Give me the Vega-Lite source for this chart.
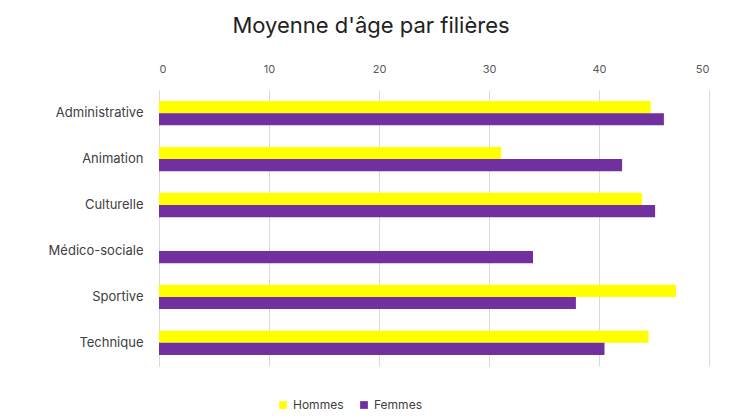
{
  "$schema": "https://vega.github.io/schema/vega-lite/v6.json",
  "width": 550,
  "height": 276,
  "autosize": {"type": "none"},
  "padding": {"left": 159, "top": 90, "right": 22, "bottom": 52},
  "background": "white",
  "title": {
    "text": "Moyenne d'âge par filières",
    "font": "Inter",
    "fontSize": 22,
    "fontWeight": 400,
    "color": "#222222",
    "anchor": "middle",
    "dx": -63,
    "offset": 25
  },
  "data": {
    "values": [
      {"filiere": "Administrative", "sexe": "Hommes", "age": 44.7},
      {"filiere": "Administrative", "sexe": "Femmes", "age": 45.9},
      {"filiere": "Animation", "sexe": "Hommes", "age": 31.1},
      {"filiere": "Animation", "sexe": "Femmes", "age": 42.1},
      {"filiere": "Culturelle", "sexe": "Hommes", "age": 43.9},
      {"filiere": "Culturelle", "sexe": "Femmes", "age": 45.1},
      {"filiere": "Médico-sociale", "sexe": "Femmes", "age": 34.0},
      {"filiere": "Sportive", "sexe": "Hommes", "age": 47.0},
      {"filiere": "Sportive", "sexe": "Femmes", "age": 37.9},
      {"filiere": "Technique", "sexe": "Hommes", "age": 44.5},
      {"filiere": "Technique", "sexe": "Femmes", "age": 40.5}
    ]
  },
  "mark": {"type": "bar"},
  "encoding": {
    "y": {
      "field": "filiere",
      "type": "nominal",
      "sort": ["Administrative", "Animation", "Culturelle", "Médico-sociale", "Sportive", "Technique"],
      "scale": {"paddingInner": 0.47, "paddingOuter": 0.24},
      "axis": {
        "title": null,
        "ticks": false,
        "domain": true,
        "domainColor": "#d9d9d9",
        "labelFont": "Inter",
        "labelFontSize": 13,
        "labelColor": "#404040",
        "labelPadding": 16
      }
    },
    "yOffset": {
      "field": "sexe",
      "type": "nominal",
      "sort": ["Hommes", "Femmes"],
      "scale": {"domain": ["Hommes", "Femmes"], "paddingInner": 0}
    },
    "x": {
      "field": "age",
      "type": "quantitative",
      "scale": {"domain": [0, 50], "nice": false},
      "axis": {
        "orient": "top",
        "title": null,
        "values": [0, 10, 20, 30, 40, 50],
        "ticks": false,
        "domain": false,
        "grid": true,
        "gridColor": "#d9d9d9",
        "labelFont": "Inter",
        "labelFontSize": 11,
        "labelColor": "#595959",
        "labelPadding": 16
      }
    },
    "color": {
      "field": "sexe",
      "type": "nominal",
      "scale": {"domain": ["Hommes", "Femmes"], "range": ["#FFFF00", "#7030A0"]},
      "legend": {
        "title": null,
        "orient": "none",
        "direction": "horizontal",
        "legendX": 118,
        "legendY": 309,
        "symbolType": "square",
        "symbolSize": 60,
        "labelFont": "Inter",
        "labelFontSize": 12,
        "labelColor": "#404040",
        "columnPadding": 14
      }
    }
  },
  "config": {"view": {"stroke": null}}
}
